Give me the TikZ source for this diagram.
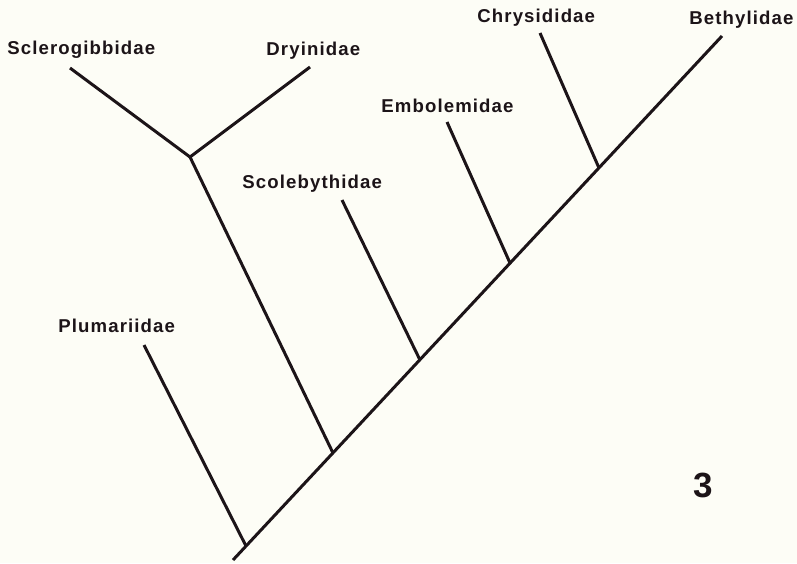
\documentclass[tikz,border=0pt]{standalone}
\usepackage{fontspec}
\setmainfont{Liberation Sans}
\newfontfamily\taxonfont[LetterSpace=6]{Liberation Sans}
\usepackage{tikz}
\usetikzlibrary{positioning, calc}
\definecolor{inkdark}{RGB}{28,20,24}
\definecolor{paper}{RGB}{253,253,246}
\tikzset{
  taxon/.style={anchor=base west, inner sep=0pt, text=inkdark,
    font=\taxonfont\bfseries\fontsize{9.3}{11}\selectfont},
  figlabel/.style={anchor=base west, inner sep=0pt, text=inkdark,
    font=\bfseries\fontsize{17.5}{20}\selectfont},
  branch/.style={line width=1.5pt, color=inkdark},
}

\begin{document}
\begin{tikzpicture}[x=0.5pt, y=-0.5pt]
  \fill[paper] (0,0) rectangle (797,563);
  \useasboundingbox (0,0) rectangle (797,563);

  % joints on the main stem
  \coordinate (root)  at (233,560);
  \coordinate (tBeth) at (722,36);
  \coordinate (nPlum) at (246,546);
  \coordinate (nDry)  at (333,453);
  \coordinate (nScol) at (420,360);
  \coordinate (nEmb)  at (510,263);
  \coordinate (nChr)  at (599,168);
  \coordinate (nSD)   at (190,157);

  % branch tips
  \coordinate (tPlum) at (144,345);
  \coordinate (tScl)  at (70,68);
  \coordinate (tDry)  at (310,67);
  \coordinate (tScol) at (342,200);
  \coordinate (tEmb)  at (447,122);
  \coordinate (tChr)  at (540,33);

  % taxon names
  \node[taxon] (scl)  at (7,54)    {Sclerogibbidae};
  \node[taxon] (dry)  at (266,55)  {Dryinidae};
  \node[taxon] (scol) at (242,188) {Scolebythidae};
  \node[taxon] (emb)  at (381,112) {Embolemidae};
  \node[taxon] (chr)  at (477,22)  {Chrysididae};
  \node[taxon] (beth) at (689,24)  {Bethylidae};
  \node[taxon] (plum) at (58,332)  {Plumariidae};
  \node[figlabel] (fig) at (693,497) {3};

  \draw[branch] (root)  -- (tBeth);
  \draw[branch] (tPlum) -- (nPlum);
  \draw[branch] (nSD)   -- (nDry);
  \draw[branch] (tScl)  -- (nSD) -- (tDry);
  \draw[branch] (tScol) -- (nScol);
  \draw[branch] (tEmb)  -- (nEmb);
  \draw[branch] (tChr)  -- (nChr);
\end{tikzpicture}
\end{document}
